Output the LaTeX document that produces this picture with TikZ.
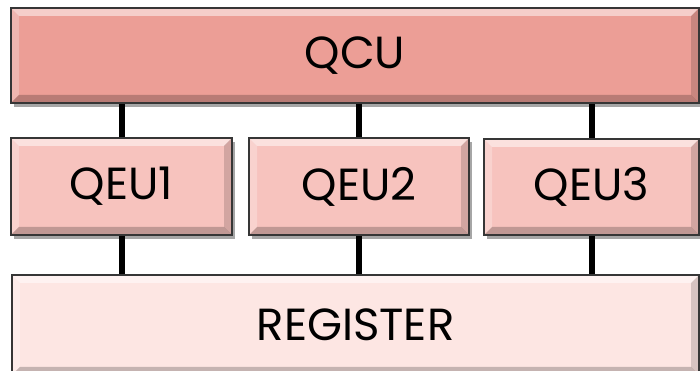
\documentclass[tikz,border=0pt]{standalone}
\usepackage{fontspec}
\setmainfont{Poppins}
\usetikzlibrary{shadows,backgrounds}
\definecolor{qcucol}{HTML}{EC9E96}
\definecolor{qeucol}{HTML}{F7C3BE}
\definecolor{regcol}{HTML}{FDE6E3}
\definecolor{edgecol}{HTML}{363636}
\tikzset{
  bevel/.style={path picture={
    \path (path picture bounding box.south west) coordinate (bsw)
          (path picture bounding box.north east) coordinate (bne);
    \fill[white,opacity=0.5] (bsw|-bne) -- (bne) -- ([shift={(-8pt,-8pt)}]bne) -- ([shift={(8pt,-8pt)}]bsw|-bne) -- cycle;
    \fill[white,opacity=0.25] (bsw) -- (bsw|-bne) -- ([shift={(8pt,-8pt)}]bsw|-bne) -- ([shift={(8pt,8pt)}]bsw) -- cycle;
    \fill[black,opacity=0.22] (bsw) -- (bsw-|bne) -- ([shift={(-8pt,8pt)}]bsw-|bne) -- ([shift={(8pt,8pt)}]bsw) -- cycle;
    \fill[black,opacity=0.15] (bsw-|bne) -- (bne) -- ([shift={(-8pt,-8pt)}]bne) -- ([shift={(-8pt,8pt)}]bsw-|bne) -- cycle;
  }},
  box/.style={draw=edgecol, line width=1.4pt, bevel, inner sep=0pt,
    drop shadow={shadow xshift=3pt, shadow yshift=-4pt, opacity=0.35, fill=black},
    font=\fontsize{45}{52}\selectfont},
  conn/.style={line width=6pt, black}
}
\begin{document}
\begin{tikzpicture}[x=1pt,y=1pt]
\useasboundingbox (0,0) rectangle (700,371);
\node[box, fill=qcucol, minimum width=688pt, minimum height=95pt] (qcu) at (355,315.5) {QCU};
\node[box, fill=qeucol, minimum width=221pt, minimum height=97pt] (qeu1) at (121.5,184.5) {QEU1};
\node[box, fill=qeucol, minimum width=220pt, minimum height=97pt] (qeu2) at (359,184.5) {QEU2};
\node[box, fill=qeucol, minimum width=215pt, minimum height=96pt] (qeu3) at (591.5,184) {QEU3};
\node[box, fill=regcol, minimum width=687pt, minimum height=100pt] (reg) at (355.5,46) {REGISTER};
\begin{pgfonlayer}{background}
\fill[white] (0,0) rectangle (700,371);
\foreach \q in {qeu1,qeu2,qeu3}{
  \draw[conn] (\q.north) -- (\q.north |- qcu.south);
  \draw[conn] (\q.south) -- (\q.south |- reg.north);
}
\end{pgfonlayer}
\end{tikzpicture}
\end{document}
